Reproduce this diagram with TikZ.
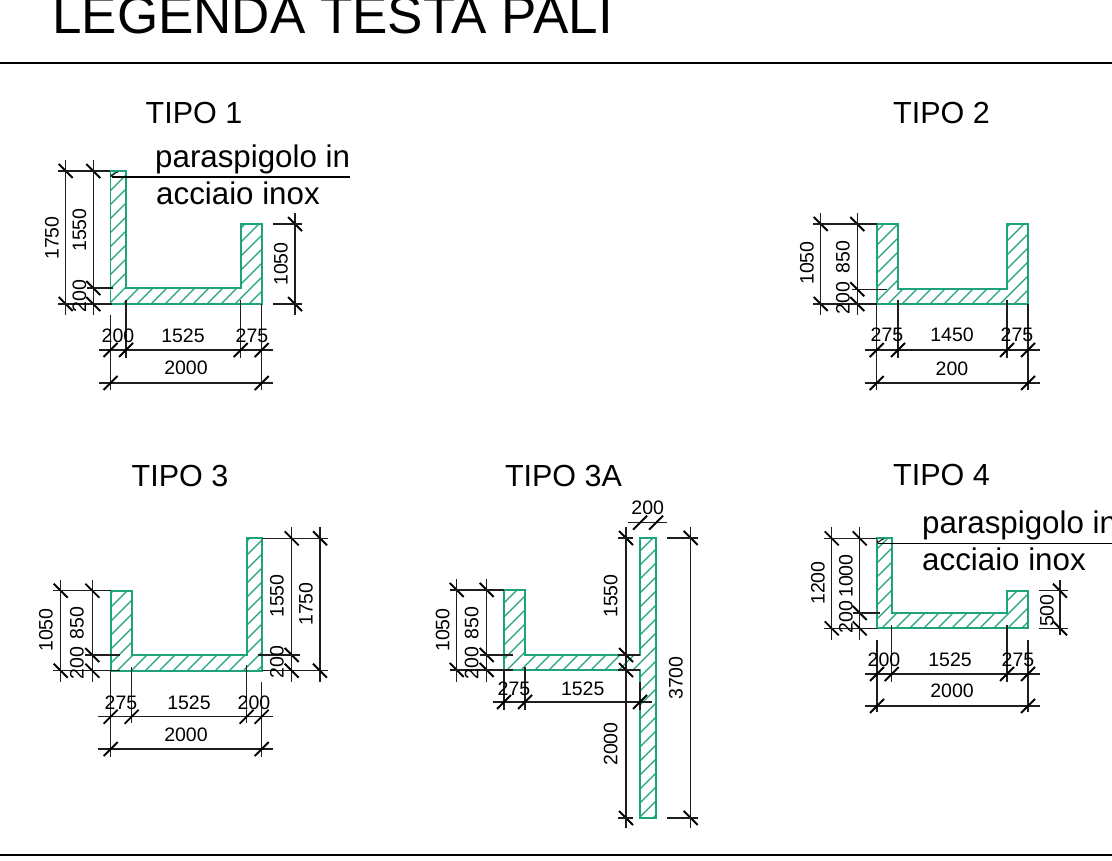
\documentclass[tikz,border=0pt]{standalone}
\usepackage{fontspec}
\setmainfont{Liberation Sans}
\definecolor{hatchgreen}{RGB}{30,163,125}
\definecolor{dimblack}{RGB}{30,30,30}
\tikzset{
  hatchln/.style={draw=hatchgreen,line width=1.35pt},
  outln/.style={draw=hatchgreen,line width=1.7pt,line join=miter},
  dimln/.style={draw=dimblack,line width=1.2pt},
  tickln/.style={draw=black,line width=1.9pt},
  rule/.style={draw=black,line width=2.2pt},
  leaderln/.style={draw=black,line width=1.6pt},
  cornerln/.style={draw=dimblack,line width=1.1pt},
  dimtxt/.style={inner sep=0pt,font=\fontsize{19.5}{19.5}\selectfont},
  rdimtxt/.style={dimtxt,rotate=90},
  tiptxt/.style={inner sep=0pt,font=\fontsize{30.5}{30.5}\selectfont},
  notetxt/.style={inner sep=0pt,anchor=base west,font=\fontsize{31.3}{31.3}\selectfont},
  titletxt/.style={inner sep=0pt,anchor=base west,font=\fontsize{53}{53}\selectfont}
}
% hatched section: path, hatch phase
\newcommand\hatched[2]{%
  \begin{scope}\clip #1;
  \foreach \hc in {0,14,...,1988}{\draw[hatchln] (\hc+#2,0)--(0,\hc+#2);}
  \end{scope}
  \draw[outln] #1;}
% vertical dimension: x, y from, y to, tick list
\newcommand\vd[4]{\draw[dimln] (#1,#2)--(#1,#3);
  \foreach \t in {#4}{\draw[tickln] (#1-7,\t-7)--(#1+7,\t+7);}}
% horizontal dimension: y, x from, x to, tick list
\newcommand\hd[4]{\draw[dimln] (#2,#1)--(#3,#1);
  \foreach \t in {#4}{\draw[tickln] (\t-7,#1+7)--(\t+7,#1-7);}}
\newcommand\hl[3]{\draw[dimln] (#2,#1)--(#3,#1);}
\newcommand\vl[3]{\draw[dimln] (#1,#2)--(#1,#3);}
\newcommand\lab[4]{\node[dimtxt] (#1) at (#2,#3) {#4};}
\newcommand\rlab[4]{\node[rdimtxt] (#1) at (#2,#3) {#4};}
\begin{document}
\begin{tikzpicture}[x=1pt,y=-1pt]
\useasboundingbox (0,0) rectangle (1112,861);
\clip (0,0) rectangle (1112,861);
\fill[white] (0,0) rectangle (1112,861);
\node[titletxt] (title) at (52,34) {LEGENDA TESTA PALI};
\draw[rule] (0,63)--(1112,63);
\draw[rule] (0,855)--(1112,855);
\node[tiptxt] (t1) at (194,113) {TIPO 1};
\node[tiptxt] (t2) at (941.5,113) {TIPO 2};
\node[tiptxt] (t3) at (180,476) {TIPO 3};
\node[tiptxt] (t3a) at (563.5,476) {TIPO 3A};
\node[tiptxt] (t4) at (941.5,475) {TIPO 4};

% ---- TIPO 1
\hatched{(110.5,171)--(126,171)--(126,288)--(240.7,288)--(240.7,224)--(261.7,224)--(261.7,304)--(110.5,304)--cycle}{7}
\vd{65.7}{160}{315}{171,304}
\vd{93.3}{160}{315}{171,288,304}
\hl{171}{58}{110}
\hl{288}{87}{113}
\hl{304}{58}{112}
\vd{295}{213}{315}{224,304}
\hl{224}{273}{302}
\hl{304}{273}{302}
\vl{110.5}{315}{390}
\vl{126}{300}{358}
\vl{240.7}{300}{358}
\vl{261.7}{304}{390}
\hd{350}{99}{273}{110.5,126,240.7,261.7}
\hd{383}{99}{273}{110.5,261.7}
\draw[leaderln] (112,177)--(350,177);
\draw[cornerln] (111,177)--(111,175) to[out=-90,in=180] (118,172);
\node[notetxt] (n1a) at (155,167.5) {paraspigolo in};
\node[notetxt] (n1b) at (156,205) {acciaio inox};
\rlab{a1}{52}{238}{1750}
\rlab{a2}{79.5}{230}{1550}
\rlab{a3}{79.5}{296}{200}
\rlab{a4}{281}{264}{1050}
\lab{a5}{118}{336}{200}
\lab{a6}{183}{336}{1525}
\lab{a7}{252}{336}{275}
\lab{a8}{186}{368}{2000}

% ---- TIPO 2
\hatched{(876.7,224)--(898,224)--(898,289.3)--(1007,289.3)--(1007,224)--(1028,224)--(1028,304)--(876.7,304)--cycle}{2}
\vd{820.7}{213}{315}{224,304}
\vd{857.3}{213}{315}{224,289.3,304}
\hl{224}{813}{877}
\hl{289.3}{852}{887}
\hl{304}{813}{877}
\vl{876.7}{304}{390}
\vl{898}{300}{358}
\vl{1007}{300}{358}
\vl{1028}{304}{390}
\hd{350}{865}{1040}{876.7,898,1007,1028}
\hd{383}{865}{1040}{876.7,1028}
\rlab{b1}{807}{263}{1050}
\rlab{b2}{843}{257}{850}
\rlab{b3}{843}{298}{200}
\lab{b4}{887}{335}{275}
\lab{b5}{952}{335}{1450}
\lab{b6}{1017}{335}{275}
\lab{b7}{952}{369}{200}

% ---- TIPO 3
\hatched{(110.7,590.7)--(131.7,590.7)--(131.7,655)--(246.7,655)--(246.7,538.3)--(261.7,538.3)--(261.7,670.7)--(110.7,670.7)--cycle}{4}
\vd{60.7}{580}{682}{590.7,670.7}
\vd{92.3}{580}{682}{590.7,655,670.7}
\hl{590.7}{52.7}{111}
\hl{655}{85}{120}
\hl{670.7}{52.7}{120}
\vd{291.7}{527}{682}{538.3,655,670.7}
\vd{320}{527}{682}{538.3,670.7}
\hl{538.3}{262}{328}
\hl{655}{258}{300}
\hl{670.7}{262}{328}
\vl{110.7}{670}{757}
\vl{131.7}{667}{723}
\vl{246.7}{665}{723}
\vl{261.7}{682}{757}
\hd{716.7}{98}{273}{110.7,131.7,246.7,261.7}
\hd{749}{98}{273}{110.7,261.7}
\rlab{c1}{46}{630}{1050}
\rlab{c2}{77}{623}{850}
\rlab{c3}{77}{663}{200}
\rlab{c4}{277}{596}{1550}
\rlab{c5}{306}{604}{1750}
\rlab{c6}{277}{662}{200}
\lab{c7}{121}{702.7}{275}
\lab{c8}{189}{702.7}{1525}
\lab{c9}{254}{702.7}{200}
\lab{c10}{186}{735}{2000}

% ---- TIPO 3A
\hatched{(504,590)--(525,590)--(525,655)--(640,655)--(640,538)--(656,538)--(656,818)--(640,818)--(640,670)--(504,670)--cycle}{1}
\vd{456.7}{579}{682}{590,670}
\vd{486.7}{579}{682}{590,655,670}
\hl{590}{450}{504}
\hl{655}{480}{513}
\hl{670}{450}{513}
\vd{626}{527}{828}{538,655,670,818}
\hl{538}{618}{633}
\hl{818}{618}{633}
\hl{655}{618}{640}
\hl{670}{618}{640}
\vd{690.7}{527}{828}{538,818}
\hl{538}{667}{698}
\hl{818}{667}{698}
\hd{522.7}{628}{667}{640,656}
\vl{504}{670}{710}
\vl{525}{667}{710}
\vl{640}{682}{710}
\hd{702}{492.7}{652}{504,525,640}
\lab{d1}{647.7}{507.3}{200}
\rlab{d2}{442.7}{630}{1050}
\rlab{d3}{471.7}{623}{850}
\rlab{d4}{471.7}{663}{200}
\rlab{d5}{610.7}{596}{1550}
\rlab{d6}{610.7}{744}{2000}
\rlab{d7}{676}{678}{3700}
\lab{d8}{514}{689}{275}
\lab{d9}{582.7}{689}{1525}

% ---- TIPO 4
\hatched{(877,538.3)--(891.7,538.3)--(891.7,613)--(1007,613)--(1007,590.7)--(1028,590.7)--(1028,628.3)--(877,628.3)--cycle}{12}
\vd{831.7}{527}{640}{538.3,628.3}
\vd{859.7}{527}{640}{538.3,613,628.3}
\hl{538.3}{824}{877}
\hl{613}{853}{880}
\hl{628.3}{824}{877}
\vd{1060}{580}{635}{590.7,628.3}
\hl{590.7}{1039}{1068}
\hl{628.3}{1039}{1068}
\vl{877}{640}{712}
\vl{891.7}{625}{682}
\vl{1007}{625}{682}
\vl{1028}{640}{712}
\hd{674}{865}{1040}{877,891.7,1007,1028}
\hd{706}{865}{1040}{877,1028}
\draw[leaderln] (878,543.3)--(1112,543.3);
\draw[cornerln] (877.5,543.3)--(877.5,541.5) to[out=-90,in=180] (884,538.8);
\node[notetxt] (n4a) at (922,533) {paraspigolo in};
\node[notetxt] (n4b) at (922,570.5) {acciaio inox};
\rlab{e1}{818}{583}{1200}
\rlab{e2}{846}{576}{1000}
\rlab{e3}{846}{617}{200}
\rlab{e4}{1047}{610.7}{500}
\lab{e5}{884}{660}{200}
\lab{e6}{950}{660}{1525}
\lab{e7}{1018}{660}{275}
\lab{e8}{952}{690.7}{2000}
\end{tikzpicture}
\end{document}
